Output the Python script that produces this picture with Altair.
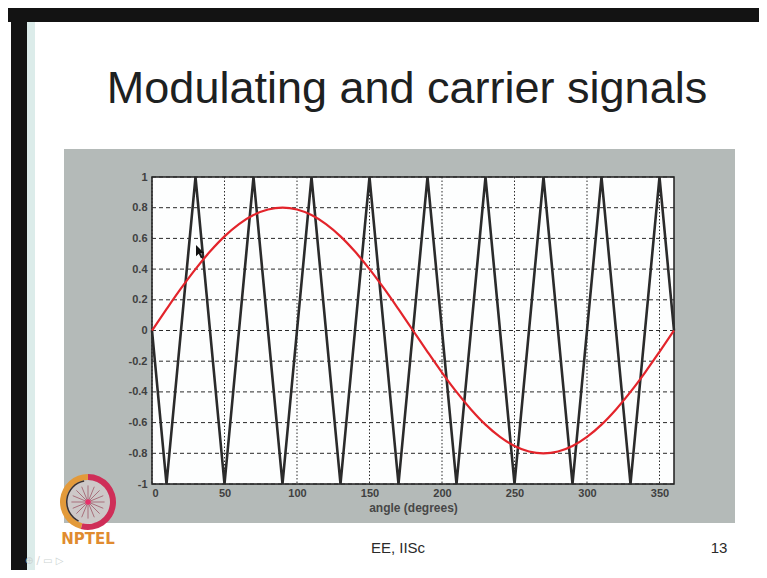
import altair as alt
import pandas as pd

# ---- data ----
carrier_angle = [0, 10, 30, 50, 70, 90, 110, 130, 150, 170, 190, 210, 230, 250,
                 270, 290, 310, 330, 350, 360]
carrier_value = [0, -1, 1, -1, 1, -1, 1, -1, 1, -1, 1, -1, 1, -1, 1, -1, 1, -1, 1, 0]

mod_angle = [0, 10, 20, 30, 40, 50, 60, 70, 80, 90, 100, 110, 120, 130, 140, 150,
             160, 170, 180, 190, 200, 210, 220, 230, 240, 250, 260, 270, 280, 290,
             300, 310, 320, 330, 340, 350, 360]
mod_value = [0.0, 0.139, 0.274, 0.4, 0.514, 0.613, 0.693, 0.752, 0.788, 0.8,
             0.788, 0.752, 0.693, 0.613, 0.514, 0.4, 0.274, 0.139, 0.0,
             -0.139, -0.274, -0.4, -0.514, -0.613, -0.693, -0.752, -0.788, -0.8,
             -0.788, -0.752, -0.693, -0.613, -0.514, -0.4, -0.274, -0.139, 0.0]

x_ticks = [0, 50, 100, 150, 200, 250, 300, 350]
y_ticks = [-1, -0.8, -0.6, -0.4, -0.2, 0, 0.2, 0.4, 0.6, 0.8, 1]

slide_title = "Modulating and carrier signals"
x_title = "angle (degrees)"
footer_mid = "EE, IISc"
footer_page = "13"
logo_text = "NPTEL"

# ---- tables ----
carrier_df = pd.DataFrame({"angle": carrier_angle, "value": carrier_value})
mod_df = pd.DataFrame({"angle": mod_angle, "value": mod_value})
xgrid_df = pd.DataFrame({"angle": x_ticks})
ygrid_df = pd.DataFrame({"value": y_ticks})
one = pd.DataFrame({"k": [0]})

W, H = 522, 307
xs = alt.Scale(domain=[0, 360], nice=False, zero=False)
ys = alt.Scale(domain=[-1, 1], nice=False)

LABEL_FONT = "Liberation Sans"

x_axis = alt.Axis(values=x_ticks, title=x_title, grid=False, domain=False,
                  ticks=False, labelFont=LABEL_FONT, labelFontSize=11,
                  labelFontWeight="bold", labelColor="#404040",
                  labelPadding=3, titleFont=LABEL_FONT, titleFontSize=12,
                  titleFontWeight="bold", titleColor="#474747",
                  titlePadding=4, zindex=1)
y_axis = alt.Axis(values=y_ticks, title=None, grid=False, domain=False,
                  ticks=False, labelFont=LABEL_FONT, labelFontSize=11,
                  labelFontWeight="bold", labelColor="#404040",
                  labelPadding=5, zindex=1,
                  labelExpr="replace(format(datum.value, '~g'), '\u2212', '-')")


def rect(x0, x1, y0, y1, **kw):
    return alt.Chart(one).mark_rect(**kw).encode(
        x=alt.value(x0), x2=alt.value(x1), y=alt.value(y0), y2=alt.value(y1))


def text(label, x, y, **kw):
    return alt.Chart(pd.DataFrame({"t": [label]})).mark_text(**kw).encode(
        x=alt.value(x), y=alt.value(y), text="t:N")


# slide decorations
top_band = rect(-144, 607, -169, -155, color="#131313")
left_band = rect(-141, -125, -169, 393, color="#131313")
left_glow = rect(-125, -117, -155, 393, color="#dcecea")
panel = rect(-88, 583, -28, 346, color="#b4bab8")
plot_bg = rect(0, W, 0, H, fill="#fdfefe", stroke="#1e1e1e", strokeWidth=1.5)

title = text(slide_title, 255, -74, align="center", baseline="alphabetic",
             font=LABEL_FONT, fontSize=45, color="#1d2121")

# grid
xgrid = alt.Chart(xgrid_df).mark_rule(color="#2a2a2a", strokeWidth=1,
                                      strokeDash=[1.5, 2]).encode(
    x=alt.X("angle:Q", scale=xs, axis=x_axis))
ygrid = alt.Chart(ygrid_df).mark_rule(color="#2a2a2a", strokeWidth=1,
                                      strokeDash=[4, 3]).encode(
    y=alt.Y("value:Q", scale=ys, axis=y_axis))

carrier = alt.Chart(carrier_df).mark_line(color="#2b2b2b", strokeWidth=2.6).encode(
    x=alt.X("angle:Q", scale=xs, axis=x_axis),
    y=alt.Y("value:Q", scale=ys, axis=y_axis),
    order="angle:Q",
)

modulating = alt.Chart(mod_df).mark_line(color="#e3242b", strokeWidth=2.2,
                                         interpolate="monotone").encode(
    x=alt.X("angle:Q", scale=xs, axis=x_axis),
    y=alt.Y("value:Q", scale=ys, axis=y_axis),
    order="angle:Q",
)

cursor = alt.Chart(one).mark_point(
    shape="M0,0L0,1.6L0.4,1.25L0.7,1.9L0.95,1.78L0.65,1.15L1.15,1.15Z",
    size=196, filled=True, color="#111111", opacity=1).encode(
    x=alt.value(44), y=alt.value(68))

# logo
logo_fill = alt.Chart(one).mark_arc(radius=22, color="#cdc8c8").encode(
    x=alt.value(-64), y=alt.value(325))
logo_orange = alt.Chart(one).mark_arc(radius=28, radius2=22, theta=3.4, theta2=6.28,
                                      color="#e39a3a").encode(
    x=alt.value(-64), y=alt.value(325))
logo_red = alt.Chart(one).mark_arc(radius=28, radius2=22, theta=0.0, theta2=3.4,
                                   color="#cf2e58").encode(
    x=alt.value(-64), y=alt.value(325))
logo_inner = alt.Chart(one).mark_arc(radius=22, radius2=20.5, theta=3.6, theta2=6.1,
                                     color="#3a3030").encode(
    x=alt.value(-64), y=alt.value(325))
logo_star = alt.Chart(one).mark_point(
    shape=("M0,-1L0,1M-1,0L1,0M-0.7,-0.7L0.7,0.7M-0.7,0.7L0.7,-0.7"
           "M-0.38,-0.92L0.38,0.92M0.38,-0.92L-0.38,0.92"
           "M-0.92,-0.38L0.92,0.38M-0.92,0.38L0.92,-0.38"),
    size=1100, filled=False, color="#a8707c", strokeWidth=1, opacity=1).encode(
    x=alt.value(-64), y=alt.value(325))
logo_dot = alt.Chart(one).mark_point(shape="circle", size=30, filled=True,
                                     color="#e8306a", opacity=1).encode(
    x=alt.value(-64), y=alt.value(325))
logo_label = text(logo_text, -64, 367, align="center", baseline="alphabetic",
                  font="DejaVu Sans", fontSize=15, fontWeight="bold", color="#e08b30")

footer1 = text(footer_mid, 246, 376, align="center", baseline="alphabetic",
               font=LABEL_FONT, fontSize=15, color="#2a2a2a")
footer2 = text(footer_page, 567, 376, align="center", baseline="alphabetic",
               font=LABEL_FONT, fontSize=15, color="#2a2a2a")
icons = text("\u2295  /  \u25ad  \u25b7", -127, 387, align="left", baseline="alphabetic",
             font="DejaVu Sans", fontSize=10, color="#cdd4d3")

chart = alt.layer(
    top_band, left_band, left_glow, panel, plot_bg, xgrid, ygrid,
    carrier, modulating, cursor, title,
    logo_fill, logo_orange, logo_red, logo_inner, logo_star, logo_dot, logo_label,
    footer1, footer2, icons,
).properties(
    width=W, height=H,
    padding={"left": 144, "top": 169, "right": 85, "bottom": 86},
    autosize=alt.AutoSizeParams(type="none"),
    background="#ffffff",
).configure_view(stroke=None)

chart.save("out.html", embed_options={"renderer": "svg", "actions": False})
